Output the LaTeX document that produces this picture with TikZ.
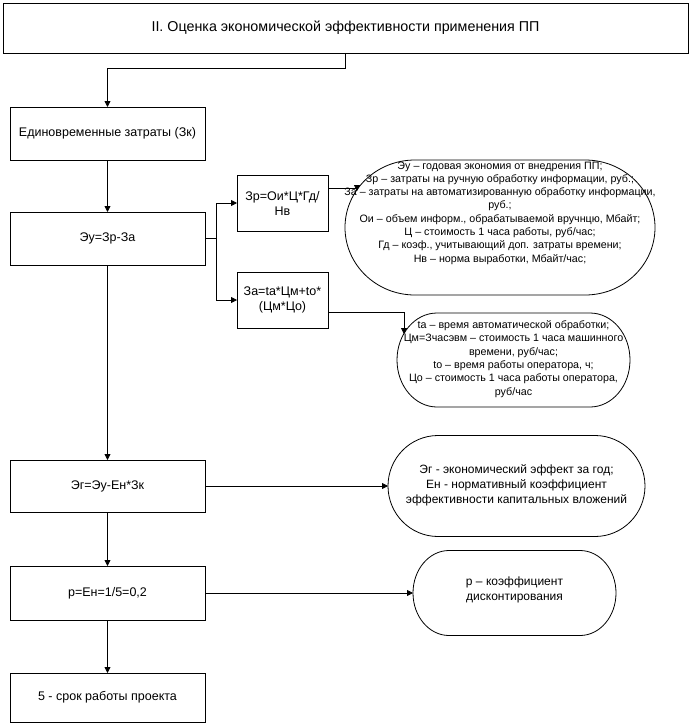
\documentclass[tikz,border=0pt]{standalone}
\usepackage{fontspec}
\setmainfont{Liberation Sans}
\usetikzlibrary{arrows.meta,positioning,calc}
\definecolor{ink}{HTML}{000000}
\tikzset{
  every node/.append style = {text=ink},
  % --- blocks -------------------------------------------------------------
  block/.style   = {draw=ink, fill=white, line width=0.8pt, align=center,
                    minimum width=195pt, inner sep=2pt, outer sep=0pt,
                    font=\fontsize{12.5}{15}\selectfont},
  formula/.style = {block, minimum width=91pt, minimum height=56pt,
                    text width=86pt},
  % --- notes (pill shaped) ------------------------------------------------
  pill/.style 2 args = {minimum width=#1, minimum height=#2, inner sep=0pt,
                    outer sep=0pt},
  note/.style    = {align=center, inner sep=0pt,
                    font=\fontsize{10.7}{13.3}\selectfont},
  bignote/.style = {align=center, inner sep=0pt,
                    font=\fontsize{12}{15}\selectfont},
  % --- relations ----------------------------------------------------------
  flow/.style    = {draw=ink, line width=0.8pt,
                    -{Triangle[length=6pt,width=6pt]}},
}
% pill outline round a node: name, x radius, y radius
\newcommand\pillshape[3]{%
  \draw[draw=ink, line width=0.8pt]
    ([xshift=#2]#1.north west) -- ([xshift=-#2]#1.north east)
    arc[start angle=90, end angle=-90, x radius=#2, y radius=#3]
    -- ([xshift=#2]#1.south west)
    arc[start angle=270, end angle=90, x radius=#2, y radius=#3] -- cycle;}

\begin{document}
\begin{tikzpicture}[x=1pt, y=-1pt]
\useasboundingbox[fill=white] (0,0) rectangle (690,725);

% ------------------------------- title -------------------------------------
\node[block, minimum width=685pt, minimum height=50pt,
      font=\fontsize{14.3}{17}\selectfont]
     (title) at (345.5,28) {II. Оценка экономической эффективности применения ПП};

% ----------------------------- main column ---------------------------------
\node[block, minimum height=53pt] (zk)   at (107.5,133.5) {Единовременные затраты (Зк)};
\node[block, minimum height=53pt] (ey)   at (107.5,238.5) {Эу=Зр-За};
\node[block, minimum height=52pt] (eg)   at (107.5,486)   {Эг=Эу-Ен*Зк};
\node[block, minimum height=54pt] (rr)   at (107.5,593)   {р=Ен=1/5=0,2};
\node[block, minimum height=49pt] (srok) at (107.5,697.5) {5 - срок работы проекта};

% ------------------------------ formulas -----------------------------------
\node[formula] (zr) at (282.5,203) {Зр=Ои*Ц*Гд/\\Нв};
\node[formula] (za) at (282.5,300) {За=tа*Цм+tо*\\(Цм*Цо)};

% ------------------------------- notes -------------------------------------
\node[pill={310pt}{135pt}] (e1) at (500,227.5) {};
\pillshape{e1}{70pt}{67.5pt}
\node[note] (e1t) at (500,213)
     {Эу – годовая экономия от внедрения ПП;\\
      Зр – затраты на ручную обработку информации, руб.;\\
      За – затраты на автоматизированную обработку информации,\\
      руб.;\\
      Ои – объем информ., обрабатываемой вручнцю, Мбайт;\\
      Ц – стоимость 1 часа работы, руб/час;\\
      Гд – коэф., учитывающий доп. затраты времени;\\
      Нв – норма выработки, Мбайт/час;};

\node[pill={233pt}{94pt}] (e2) at (513.5,360) {};
\pillshape{e2}{40pt}{47pt}
\node[note] (e2t) at (513.5,359)
     {tа – время автоматической обработки;\\
      Цм=Зчасэвм – стоимость 1 часа машинного\\
      времени, руб/час;\\
      tо – время работы оператора, ч;\\
      Цо – стоимость 1 часа работы оператора,\\
      руб/час};

\node[pill={257pt}{101pt}] (e3) at (516.5,486) {};
\pillshape{e3}{50pt}{50.5pt}
\node[bignote] (e3t) at (516.5,485)
     {Эг - экономический эффект за год;\\
      Ен - нормативный коэффициент\\
      эффективности капитальных вложений};

\node[pill={203pt}{85pt}] (e4) at (514.5,593) {};
\pillshape{e4}{36pt}{42.5pt}
\node[bignote] (e4t) at (514.5,590) {р – коэффициент\\дисконтирования};

\coordinate (e1in) at (357,191);
\coordinate (e2in) at (404,334);

% ------------------------------- flow --------------------------------------
\draw[flow] (title.south) -- ++(0,15) -| (zk.north);
\foreach \a/\b in {zk/ey, ey/eg, eg/rr, rr/srok}{ \draw[flow] (\a) -- (\b); }
\draw[flow] (ey.east) -- ++(11,0) |- (zr.west);
\draw[flow] (ey.east) -- ++(11,0) |- (za.west);
\draw[flow] ([yshift=15pt]zr.east) -| (e1in);
\draw[flow] ([yshift=-12pt]za.east) -| (e2in);
\draw[flow] (eg.east) -- (e3.west);
\draw[flow] (rr.east) -- (e4.west);

\end{tikzpicture}
\end{document}
